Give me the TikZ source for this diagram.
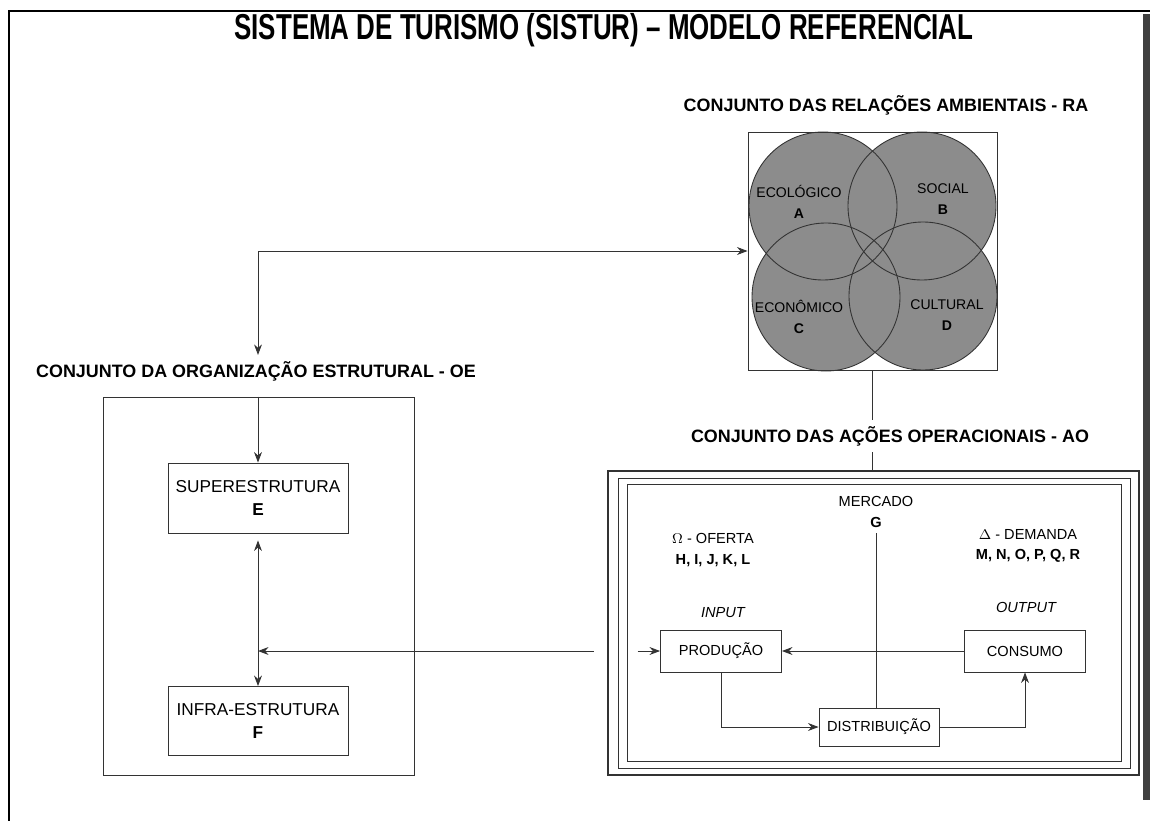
\documentclass[tikz,border=0pt]{standalone}
\usepackage{fontspec}
\setmainfont{Liberation Sans}
\newfontfamily\titlefont[FakeStretch=0.72]{Liberation Sans}
\usetikzlibrary{arrows.meta,fit}

\tikzset{
	line/.style={draw=black!80, line width=0.5pt},
	settitle/.style={font=\bfseries\fontsize{10.2}{12}\selectfont},
	lbl/.style={align=center, font=\fontsize{8.3}{11.5}\selectfont},
	circlbl/.style={align=center, font=\fontsize{8}{12}\selectfont, inner sep=0pt},
	opbox/.style={line, align=center, font=\fontsize{8.3}{11}\selectfont, minimum width=2.42cm, minimum height=0.84cm, inner sep=0pt},
	oebox/.style={line, align=center, font=\fontsize{9.8}{13.5}\selectfont, minimum width=3.6cm, minimum height=1.4cm, inner sep=0pt}
}

\begin{document}
\begin{tikzpicture}[x=0.02cm, y=-0.02cm, >={Stealth[length=6pt,width=4.5pt]}]
	\useasboundingbox (0,0) rectangle (1150,821);
	% edges of the scanned page
	\draw[line width=1.6pt] (9,821) -- (9,11) -- (1150,11);
	\fill[black!75] (1143,14) rectangle (1150,800);

	\node[font=\titlefont\bfseries\fontsize{20.5}{24}\selectfont] (title) at (604,30) {SISTEMA DE TURISMO (SISTUR) – MODELO REFERENCIAL};

	% relacoes ambientais
	\node[settitle] (ratitle) at (886,105) {CONJUNTO DAS RELAÇÕES AMBIENTAIS - RA};
	\foreach \cx/\cy in {823/206, 922/206, 826/297, 923/296}
		\fill[black!45] (\cx,\cy) circle (74);
	\foreach \cx/\cy in {823/206, 922/206, 826/297, 923/296}
		\draw[line] (\cx,\cy) circle (74);
	\node[line, fit={(748,132) (997,370)}, inner sep=0pt] (ra) {};
	\node[circlbl] (ecol) at (799,202) {ECOLÓGICO\\\textbf{A}};
	\node[circlbl] (soc) at (943,199) {SOCIAL\\\textbf{B}};
	\node[circlbl] (econ) at (799,317) {ECONÔMICO\\\textbf{C}};
	\node[circlbl] (cult) at (947,315) {CULTURAL\\\textbf{D}};

	% organizacao estrutural
	\node[settitle] (oetitle) at (256,371) {CONJUNTO DA ORGANIZAÇÃO ESTRUTURAL - OE};
	\node[line, fit={(103,397) (414,775)}, inner sep=0pt] (oe) {};
	\node[oebox] (super) at (258,498) {SUPERESTRUTURA\\\textbf{E}};
	\node[oebox, minimum height=1.38cm] (infra) at (258,721) {INFRA-ESTRUTURA\\\textbf{F}};

	% acoes operacionais
	\node[settitle] (aotitle) at (890,436) {CONJUNTO DAS AÇÕES OPERACIONAIS - AO};
	\node[line, line width=1.3pt, fit={(608,471) (1139,775)}, inner sep=0pt] (aoout) {};
	\node[line, fit={(618,478) (1130,768)}, inner sep=0pt] (aomid) {};
	\node[line, fit={(627,484) (1121,761)}, inner sep=0pt] (aoin) {};
	\node[lbl] (mercado) at (876,512) {MERCADO\\\textbf{G}};
	\node[lbl] (oferta) at (713,550) {$\Omega$ - OFERTA\\\textbf{H, I, J, K, L}};
	\node[lbl] (demanda) at (1028,546) {$\Delta$ - DEMANDA\\\textbf{M, N, O, P, Q, R}};
	\node[lbl, font=\itshape\fontsize{8.3}{11}\selectfont] (input) at (723,613) {INPUT};
	\node[lbl, font=\itshape\fontsize{8.3}{11}\selectfont] (output) at (1026,607) {OUTPUT};
	\node[opbox] (prod) at (721,651) {PRODUÇÃO};
	\node[opbox] (cons) at (1025,651) {CONSUMO};
	\node[opbox, minimum width=2.4cm, minimum height=0.76cm] (dist) at (879,727) {DISTRIBUIÇÃO};

	% ligacoes
	\draw[line, <->] (oetitle.north -| super.north) |- (ra.west);
	\draw[line] (ra.south) -- (ra.south |- aotitle.north);
	\draw[line] (ra.south |- aotitle.south) -- (ra.south |- aoout.north);
	\draw[line, ->] (super.north |- oe.north) -- (super.north);
	\draw[line, <->, shorten <=4pt] (super.south) -- (infra.north);
	\coordinate (join) at (super.south |- prod.west);
	\draw[line, ->] ([xshift=-0.26cm]aoout.west |- prod.west) -- (join);
	\draw[line, ->] ([xshift=0.22cm]aoin.west |- prod.west) -- (prod.west);
	\draw[line] (mercado.south) -- (mercado.south |- dist.north);
	\draw[line, ->] (cons.west) -- (prod.east);
	\draw[line, ->] (prod.south) |- (dist.west);
	\draw[line, ->] (dist.east) -| (cons.south);
\end{tikzpicture}
\end{document}
